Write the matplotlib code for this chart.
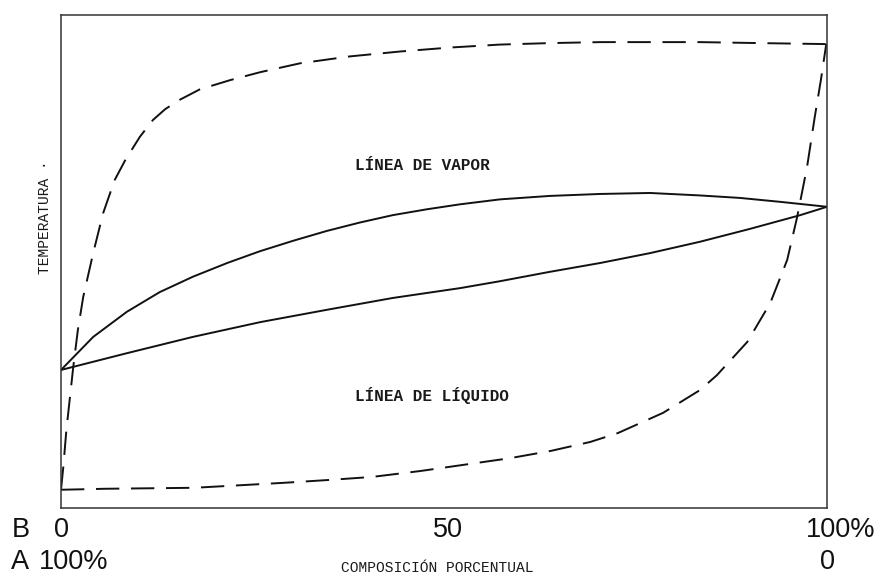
import matplotlib
matplotlib.use("Agg")
import matplotlib.pyplot as plt
import matplotlib.transforms as mtransforms

# ---- data (composition % of B, temperature in arbitrary units) ----
liq_x = [0, 8.6, 17.2, 26.0, 34.7, 43.3, 52.1, 57.3, 63.8, 70.4, 76.9, 83.4, 89.9, 96.5, 100]
liq_y = [28.0, 31.4, 34.7, 37.7, 40.2, 42.6, 44.6, 46.0, 47.9, 49.7, 51.7, 54.0, 56.6, 59.4, 61.1]

vap_x = [0, 4.2, 8.6, 12.9, 17.2, 21.7, 26.0, 30.3, 34.7, 39.0, 43.3, 47.8, 52.1, 57.3,
         63.8, 70.4, 76.9, 83.4, 88.6, 93.9, 100]
vap_y = [28.0, 34.7, 39.8, 43.8, 46.9, 49.7, 52.1, 54.2, 56.2, 57.9, 59.4, 60.6, 61.6, 62.6,
         63.3, 63.7, 63.9, 63.4, 62.9, 62.1, 61.1]

dash1_x = [0, 0.3, 0.7, 1.6, 2.2, 2.9, 4.2, 5.5, 7.0, 8.4, 10.3, 12.0, 13.6, 15.5, 18.1,
           22.1, 26.0, 31.2, 37.7, 44.3, 50.8, 57.3, 63.8, 70.4, 83.4, 91.3, 99.9]
dash1_y = [3.7, 8.3, 15.8, 28.6, 36.1, 42.8, 51.7, 59.8, 66.5, 70.6, 75.3, 78.7, 80.9, 82.8, 84.9,
           86.8, 88.4, 90.2, 91.6, 92.6, 93.4, 94.0, 94.3, 94.5, 94.5, 94.3, 94.1]

dash2_x = [0, 5.7, 17.4, 29.0, 35.1, 40.6, 46.9, 52.3, 58.6, 64.0, 69.1, 72.7, 78.6, 83.4,
           85.6, 89.6, 92.6, 94.8, 96.1, 97.4, 98.4, 99.2, 99.9]
dash2_y = [3.7, 3.9, 4.1, 5.1, 5.7, 6.3, 7.5, 8.7, 10.1, 11.6, 13.4, 15.2, 19.3, 23.9,
           26.9, 33.7, 41.6, 50.3, 59.0, 69.2, 79.3, 86.8, 94.1]

b_ticks = [0, 50, 100]
b_labels = ["0", "50", "100%"]
a_ticks = [0, 100]
a_labels = ["100%", "0"]

fig = plt.figure(figsize=(8.8, 5.76), dpi=100)
ax = fig.add_axes([61 / 880, 1 - 508 / 576, 766 / 880, 493 / 576])
ax.set_xlim(0, 100)
ax.set_ylim(0, 100)
ax.set_xticks([])
ax.set_yticks([])
for s in ax.spines.values():
    s.set_linewidth(1.1)
    s.set_color("#333333")

line_kw = dict(color="#111111", lw=1.4, solid_joinstyle="round", solid_capstyle="round",
               dash_joinstyle="round")
ax.plot(liq_x, liq_y, **line_kw)
ax.plot(vap_x, vap_y, **line_kw)
ax.plot(dash1_x, dash1_y, dashes=(12, 6), **line_kw)
ax.plot(dash2_x, dash2_y, dashes=(12, 6), **line_kw)

mono = dict(family="Liberation Mono", fontsize=11.5, color="#1a1a1a", fontweight="bold")
ax.text(38.4, (508 - 166) / 4.93, "LÍNEA DE VAPOR", ha="left", va="center", **mono)
ax.text(38.4, (508 - 395) / 4.93, "LÍNEA DE LÍQUIDO", ha="left", va="center", **mono)
fig.text(45 / 880, 1 - 217 / 576, "TEMPERATURA ·", rotation=90, ha="center", va="center",
         family="Liberation Mono", fontsize=10.5, color="#1a1a1a")
fig.text(437 / 880, 1 - 572 / 576, "COMPOSICIÓN PORCENTUAL", ha="center", va="baseline",
         family="Liberation Mono", fontsize=10.5, color="#1a1a1a")

sans = dict(family="Liberation Sans", fontsize=19.5, color="#111111")
trans = mtransforms.blended_transform_factory(ax.transData, fig.transFigure)
b_off = {"0": 0, "50": 4, "100%": 14}
for xv, lab in zip(b_ticks, b_labels):
    t = trans + mtransforms.ScaledTranslation(b_off[lab] / 100, 0, fig.dpi_scale_trans)
    ax.text(xv, 1 - 537 / 576, lab, transform=t, ha="center", va="baseline", **sans)
a_off = {"100%": 13, "0": 0}
for xv, lab in zip(a_ticks, a_labels):
    t = trans + mtransforms.ScaledTranslation(a_off[lab] / 100, 0, fig.dpi_scale_trans)
    ax.text(xv, 1 - 569 / 576, lab, transform=t, ha="center", va="baseline", **sans)
fig.text(12 / 880, 1 - 537 / 576, "B", ha="left", va="baseline", **sans)
fig.text(11 / 880, 1 - 569 / 576, "A", ha="left", va="baseline", **sans)

fig.savefig("out.png", dpi=100)
